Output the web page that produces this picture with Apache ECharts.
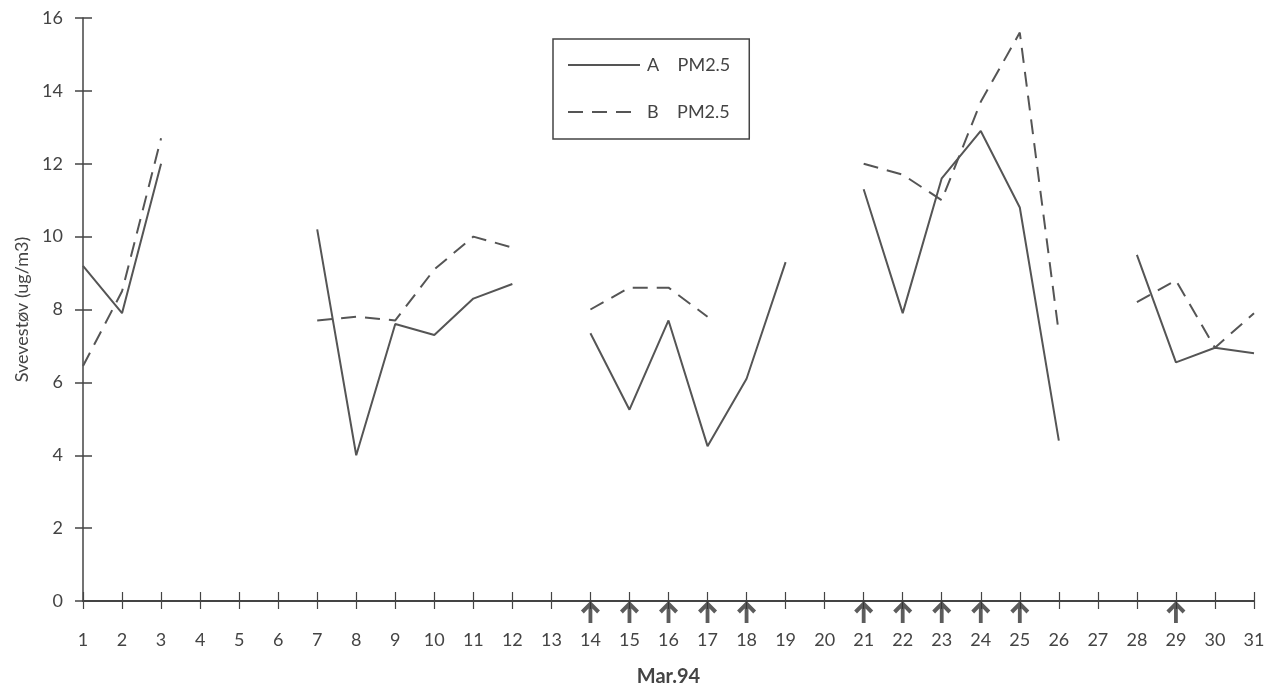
<!DOCTYPE html>
<html>
<head>
<meta charset="utf-8">
<script src="https://cdn.jsdelivr.net/npm/echarts@6/dist/echarts.min.js"></script>
<style>
html,body{margin:0;padding:0;background:#fff;}
#chart{width:1272px;height:685px;}
</style>
</head>
<body>
<div id="chart"></div>
<script>
// Days of March 1994 (x-axis tick labels)
const days = ['1','2','3','4','5','6','7','8','9','10','11','12','13','14','15','16','17','18','19','20','21','22','23','24','25','26','27','28','29','30','31'];
// Station A PM2.5 (solid)
const seriesA = [9.2, 7.9, 12.0, null, null, null, 10.2, 4.0, 7.6, 7.3, 8.3, 8.7, null, 7.35, 5.25, 7.7, 4.25, 6.1, 9.3, null, 11.3, 7.9, 11.6, 12.9, 10.8, 4.4, null, 9.5, 6.55, 6.95, 6.8];
// Station B PM2.5 (dashed)
const seriesB = [6.45, 8.5, 12.7, null, null, null, 7.7, 7.8, 7.7, 9.1, 10.0, 9.7, null, 8.0, 8.6, 8.6, 7.8, null, null, null, 12.0, 11.7, 11.0, 13.7, 15.6, 7.35, null, 8.2, 8.8, 6.95, 7.9];
// Days marked with an arrow under the axis
const arrowDays = ['14','15','16','17','18','21','22','23','24','25','29'];
const yTicks = {min: 0, max: 16, interval: 2};
const names = {A: 'A    PM2.5', B: 'B    PM2.5', x: 'Mar.94', y: 'Svevestøv (ug/m3)'};

const FONT = 'Lato, "Open Sans", sans-serif';
const INK = '#444';
const arrowPath = 'path://M10,0 L20,9.5 L17,12.5 L12,7.5 L12,22 L8,22 L8,7.5 L3,12.5 L0,9.5 Z';

const chart = echarts.init(document.getElementById('chart'), null, {renderer: 'canvas'});
const baseX = {
  type: 'category', data: days, boundaryGap: false, position: 'bottom', gridIndex: 0
};
chart.setOption({
  animation: false,
  backgroundColor: '#fff',
  grid: {left: 83, right: 18, top: 18, bottom: 84, containLabel: false, outerBoundsMode: 'none'},
  legend: {
    left: 553, top: 39, orient: 'vertical',
    data: [names.A, names.B],
    itemWidth: 72, itemHeight: 18, itemGap: 29,
    padding: [17, 19, 18, 14],
    borderColor: INK, borderWidth: 1.5,
    itemStyle: {opacity: 0},
    textStyle: {fontFamily: FONT, fontSize: 18, color: INK, padding: [0,0,0,2]},
    selectedMode: false
  },
  xAxis: [
    Object.assign({}, baseX, {
      axisLine: {show: true, lineStyle: {color: INK, width: 2}},
      axisTick: {show: true, length: 8, alignWithLabel: true, lineStyle: {color: INK, width: 1.2}},
      axisLabel: {fontFamily: FONT, fontSize: 18, color: INK, margin: 30},
      splitLine: {show: false},
      name: names.x, nameLocation: 'middle', nameGap: 66,
      nameTextStyle: {fontFamily: FONT, fontSize: 20, fontWeight: 'bold', color: INK}
    }),
    Object.assign({}, baseX, {
      axisLine: {show: false},
      axisTick: {show: true, inside: true, length: 9, lineStyle: {color: INK, width: 1.2}},
      axisLabel: {show: false},
      splitLine: {show: false}
    })
  ],
  yAxis: [
    {
      type: 'value', min: yTicks.min, max: yTicks.max, interval: yTicks.interval,
      axisLine: {show: true, lineStyle: {color: INK, width: 1.5}},
      axisTick: {show: true, length: 8, lineStyle: {color: INK, width: 1.5}},
      axisLabel: {fontFamily: FONT, fontSize: 18, color: INK, margin: 20},
      splitLine: {show: false},
      name: names.y, nameLocation: 'middle', nameGap: 52, nameRotate: 90,
      nameTextStyle: {fontFamily: FONT, fontSize: 18, color: INK}
    },
    {
      type: 'value', min: yTicks.min, max: yTicks.max, interval: yTicks.interval, position: 'left',
      axisLine: {show: false},
      axisTick: {show: true, inside: true, length: 9, lineStyle: {color: INK, width: 1.5}},
      axisLabel: {show: false},
      splitLine: {show: false}
    }
  ],
  series: [
    {
      name: names.A, type: 'line', data: seriesA, symbol: 'none', connectNulls: false,
      lineStyle: {color: '#555', width: 2, type: 'solid'}, itemStyle: {color: '#555'}
    },
    {
      name: names.B, type: 'line', data: seriesB, symbol: 'none', connectNulls: false,
      lineStyle: {color: '#555', width: 2, type: [15, 9]}, itemStyle: {color: '#555'}
    },
    {
      name: 'arrows', type: 'scatter', data: arrowDays.map(d => [d, 0]),
      symbol: arrowPath, symbolSize: [19, 22], symbolOffset: [0, 11],
      itemStyle: {color: '#333'}, silent: true, z: 5
    }
  ]
});
</script>
</body>
</html>
